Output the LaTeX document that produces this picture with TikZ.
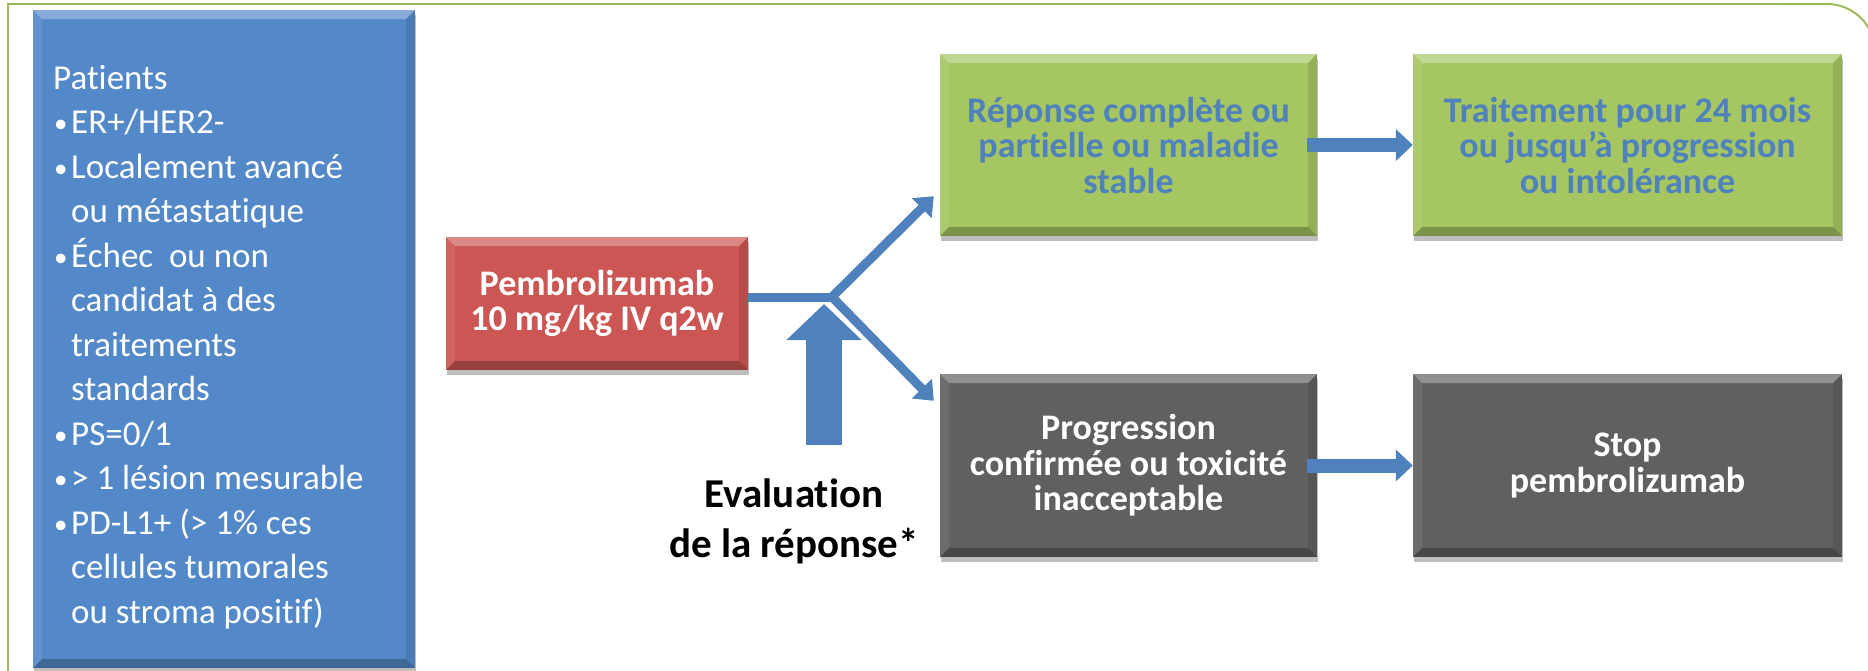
\documentclass[tikz,border=0pt]{standalone}
\usepackage{fontspec}
\setmainfont{Carlito}[Ligatures=NoCommon]
\usetikzlibrary{arrows.meta,shadows,calc}
\definecolor{framegreen}{RGB}{155,187,89}
\definecolor{pblue}{RGB}{84,137,201}
\definecolor{pred}{RGB}{204,86,84}
\definecolor{pgreen}{RGB}{166,198,98}
\definecolor{pgrey}{RGB}{96,96,96}
\definecolor{ablue}{RGB}{79,129,189}
\newcommand{\blt}{\makebox[18pt][l]{\hspace{1pt}\raisebox{1pt}{\fontsize{27}{27}\selectfont •}}}
\tikzset{
  bevel/.style={path picture={
    \fill[white,opacity=0.30] (path picture bounding box.north west) -- (path picture bounding box.north east)
      -- ([shift={(-9pt,-9pt)}]path picture bounding box.north east) -- ([shift={(9pt,-9pt)}]path picture bounding box.north west) -- cycle;
    \fill[black,opacity=0.25] (path picture bounding box.south west) -- (path picture bounding box.south east)
      -- ([shift={(-9pt,9pt)}]path picture bounding box.south east) -- ([shift={(9pt,9pt)}]path picture bounding box.south west) -- cycle;
    \fill[white,opacity=0.08] (path picture bounding box.north west) -- (path picture bounding box.south west)
      -- ([shift={(9pt,9pt)}]path picture bounding box.south west) -- ([shift={(9pt,-9pt)}]path picture bounding box.north west) -- cycle;
    \fill[black,opacity=0.10] (path picture bounding box.north east) -- (path picture bounding box.south east)
      -- ([shift={(-9pt,9pt)}]path picture bounding box.south east) -- ([shift={(-9pt,-9pt)}]path picture bounding box.north east) -- cycle;
  }},
  boxbase/.style={bevel, inner sep=0pt, align=center,
    drop shadow={shadow xshift=1pt, shadow yshift=-5pt, opacity=0.25, fill=black}},
  patbox/.style={boxbase, fill=pblue, minimum width=382pt, minimum height=658pt},
  drugbox/.style={boxbase, fill=pred, minimum width=302pt, minimum height=133pt,
    text=white, font=\fontsize{36}{35}\selectfont\bfseries},
  okbox/.style={boxbase, fill=pgreen, minimum height=182pt,
    text=ablue, font=\fontsize{36}{35.5}\selectfont\bfseries},
  badbox/.style={boxbase, fill=pgrey, minimum height=183pt,
    text=white, font=\fontsize{36}{35.5}\selectfont\bfseries},
  patline/.style={anchor=base west, inner sep=0pt, text=white, font=\fontsize{35}{44.5}\selectfont},
  thinline/.style={draw=ablue, line width=9pt},
  diagarrow/.style={draw=ablue, line width=9pt, -{Triangle[length=17pt,width=27pt]}},
  blockarrow/.style={draw=ablue, line width=14pt, -{Triangle[length=17pt,width=31pt]}},
  bigup/.style={draw=ablue, line width=36pt, -{Triangle[length=36pt,width=73pt]}},
  framestyle/.style={draw=framegreen, line width=2pt}
}
\begin{document}
\begin{tikzpicture}[x=1pt,y=-1pt]
\useasboundingbox (0,0) rectangle (1868,670);
% outer frame
\draw[framestyle] (8,700) -- (8,4) -- (1800,4);
\draw[framestyle, rounded corners=48pt] (1780,4) -- (1875,4) -- (1875,700);

% patients box
\node[patbox] (patients) at (224,339) {};
\node[patline] (p1) at (53,89) {Patients};
\node[patline] (p2) at (53,133.5) {\blt ER+/HER2-};
\node[patline] (p3) at (53,178) {\blt Localement avancé};
\node[patline] (p4) at (71,222.5) {ou métastatique};
\node[patline] (p5) at (53,267) {\blt Échec\ \ ou non};
\node[patline] (p6) at (71,311.5) {candidat à des};
\node[patline] (p7) at (71,356) {traitements};
\node[patline] (p8) at (71,400.5) {standards};
\node[patline] (p9) at (53,445) {\blt PS=0/1};
\node[patline] (p10) at (53,489.5) {\blt > 1 lésion mesurable};
\node[patline] (p11) at (53,534) {\blt PD-L1+ (> 1\% ces};
\node[patline] (p12) at (71,578.5) {cellules tumorales};
\node[patline] (p13) at (71,623) {ou stroma positif)};

% treatment
\node[drugbox] (drug) at (597,303.5) {Pembrolizumab\\10 mg/kg IV q2w};

% outcome boxes
\node[okbox, minimum width=377pt] (g1) at (1128.5,145) {Réponse complète ou\\partielle ou maladie\\stable};
\node[okbox, minimum width=429pt] (g2) at (1627.5,145) {Traitement pour 24 mois\\ou jusqu’à progression\\ou intolérance};
\node[badbox, minimum width=377pt] (k1) at (1128.5,465.5) {Progression\\confirmée ou toxicité\\inacceptable};
\node[badbox, minimum width=429pt] (k2) at (1627.5,465.5) {Stop\\pembrolizumab};

% evaluation label
\node[font=\fontsize{41}{50}\selectfont\bfseries, align=center, inner sep=0pt] (eval) at (794,521.5) {Evaluation\\de la réponse*};

% connectors
\coordinate (jn) at (832,297);
\coordinate (evbase) at (824,445);
\draw[thinline] ([yshift=6.5pt]drug.east) -- (jn);
\draw[diagarrow] (jn) -- ([shift={(-6pt,40pt)}]g1.south west);
\draw[diagarrow] (jn) -- ([shift={(-6pt,-27pt)}]k1.north west);
\draw[bigup] (evbase) -- ([shift={(-8pt,-7pt)}]jn);
\draw[blockarrow] ([xshift=-10pt]g1.east) -- (g2.west);
\draw[blockarrow] ([xshift=-10pt]k1.east) -- (k2.west);
\end{tikzpicture}
\end{document}
